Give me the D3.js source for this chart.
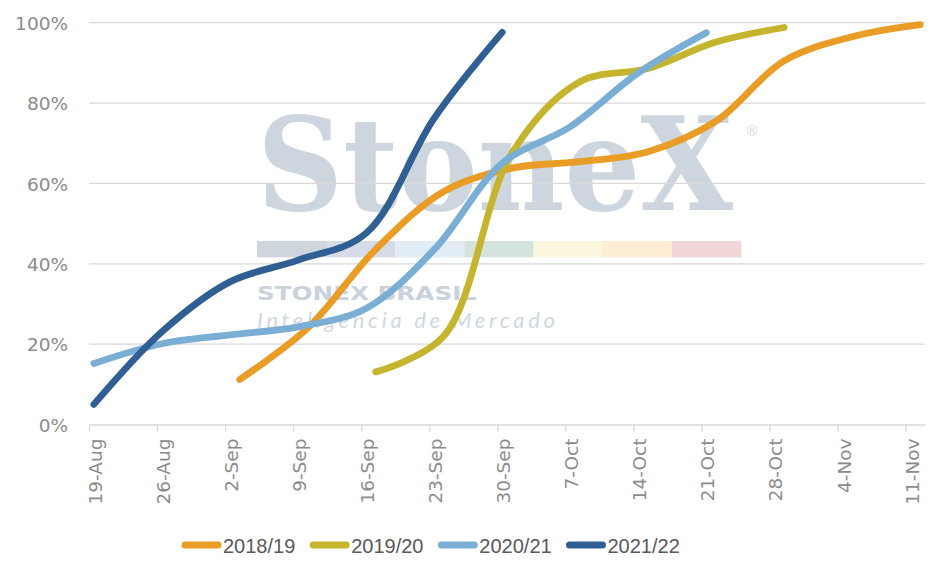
<!DOCTYPE html>
<html>
<head>
<meta charset="utf-8">
<script src="https://cdn.jsdelivr.net/npm/d3@7"></script>
<style>
  html, body { margin: 0; padding: 0; background: #fff; }
  svg { display: block; }
</style>
</head>
<body>
<svg id="chart" width="949" height="577"></svg>
<script>
// ---- data ----
const seasons = ["2018/19", "2019/20", "2020/21", "2021/22"];
const seasonColors = ["#e99c26", "#c5b42e", "#7aaed5", "#2f5f93"];

const dates1819 = ["3-Sep","10-Sep","17-Sep","24-Sep","1-Oct","8-Oct","15-Oct","22-Oct","29-Oct","5-Nov","12-Nov"];
const values1819 = [11.2, 24.0, 43.6, 58.0, 63.8, 65.4, 67.9, 75.5, 90.5, 96.5, 99.5];

const dates1920 = ["17-Sep","24-Sep","1-Oct","8-Oct","15-Oct","22-Oct","29-Oct"];
const values1920 = [13.1, 22.0, 67.5, 85.3, 88.6, 95.2, 98.8];

const dates2021 = ["19-Aug","26-Aug","2-Sep","9-Sep","16-Sep","23-Sep","30-Sep","7-Oct","14-Oct","21-Oct"];
const values2021 = [15.2, 20.1, 22.3, 24.3, 28.9, 43.5, 65.0, 74.1, 87.5, 97.5];

const dates2122 = ["19-Aug","26-Aug","2-Sep","9-Sep","16-Sep","23-Sep","30-Sep"];
const values2122 = [5.0, 23.1, 35.5, 40.9, 47.6, 76.2, 97.6];

const xTickLabels = ["19-Aug","26-Aug","2-Sep","9-Sep","16-Sep","23-Sep","30-Sep","7-Oct","14-Oct","21-Oct","28-Oct","4-Nov","11-Nov"];
const yTickValues = [0, 20, 40, 60, 80, 100];

// ---- setup ----
const parse = s => d3.timeParse("%d-%b-%Y")(s + "-2021");
const svg = d3.select("#chart");

const x = d3.scaleTime()
  .domain([parse("19-Aug"), parse("13-Nov")])
  .range([89, 925]);
const y = d3.scaleLinear().domain([0, 100]).range([424.5, 22.7]);
const halfDay = (x(parse("20-Aug")) - x(parse("19-Aug"))) / 2;

const series = [
  { name: seasons[0], color: seasonColors[0], dates: dates1819, values: values1819 },
  { name: seasons[1], color: seasonColors[1], dates: dates1920, values: values1920 },
  { name: seasons[2], color: seasonColors[2], dates: dates2021, values: values2021 },
  { name: seasons[3], color: seasonColors[3], dates: dates2122, values: values2122 }
];

const axisFont = "'DejaVu Sans', sans-serif";

// ---- watermark ----
const wm = svg.append("g").attr("class", "watermark");
wm.append("text")
  .attr("transform", "translate(257,210) scale(1,1.12)")
  .attr("x", 0).attr("y", 0)
  .attr("font-family", "'DejaVu Serif', 'Liberation Serif', serif")
  .attr("font-weight", 700)
  .attr("font-size", 116)
  .attr("textLength", 476)
  .attr("lengthAdjust", "spacingAndGlyphs")
  .attr("fill", "#cdd6de")
  .text("StoneX");
wm.append("text")
  .attr("x", 745).attr("y", 136)
  .attr("font-family", "'DejaVu Sans', sans-serif")
  .attr("font-size", 14)
  .attr("fill", "#d3dae2")
  .text("®");
const barColors = ["#cdd5dd", "#d5dce8", "#e2ecf5", "#d4e3dc", "#fbf6de", "#fdeed3", "#f1d5d7"];
const barScale = d3.scaleBand().domain(d3.range(barColors.length)).range([257, 741]).paddingInner(0);
wm.selectAll("rect.wmbar").data(barColors).join("rect")
  .attr("class", "wmbar")
  .attr("x", (d, i) => barScale(i))
  .attr("width", barScale.bandwidth() + 0.3)
  .attr("y", 241).attr("height", 16.3)
  .attr("fill", d => d);
wm.append("text")
  .attr("x", 257).attr("y", 300)
  .attr("font-family", "'DejaVu Sans', sans-serif")
  .attr("font-weight", 700)
  .attr("font-size", 20)
  .attr("textLength", 220)
  .attr("lengthAdjust", "spacingAndGlyphs")
  .attr("fill", "#cad3db")
  .text("STONEX BRASIL");
wm.append("text")
  .attr("x", 257).attr("y", 327.5)
  .attr("font-family", "'Lato', 'Open Sans', sans-serif")
  .attr("font-style", "italic")
  .attr("font-weight", 400)
  .attr("font-size", 22)
  .attr("textLength", 298)
  .attr("lengthAdjust", "spacing")
  .attr("fill", "#d0d8e0")
  .text("Inteligência de Mercado");

// ---- gridlines & y labels ----
const grid = svg.append("g");
grid.selectAll("line.grid").data(yTickValues.filter(v => v > 0)).join("line")
  .attr("class", "grid")
  .attr("x1", 89).attr("x2", 925)
  .attr("y1", d => y(d)).attr("y2", d => y(d))
  .attr("stroke", "#d9d9d9").attr("stroke-width", 1.3);

const yAxis = d3.axisLeft(y).tickValues(yTickValues).tickFormat(d => d + "%").tickSize(0).tickPadding(0);
const yg = svg.append("g").attr("transform", "translate(68,0)").call(yAxis);
yg.select(".domain").remove();
yg.selectAll("text")
  .attr("font-family", axisFont)
  .attr("font-size", 18.5)
  .attr("fill", "#8c8c8c")
  .attr("dy", "0.36em");

// ---- x axis ----
const xTickDates = xTickLabels.map(parse);
const xAxis = d3.axisBottom(x).tickValues(xTickDates).tickFormat((d, i) => xTickLabels[i]).tickSize(7).tickSizeOuter(0);
const xg = svg.append("g").attr("transform", "translate(0,424.5)").call(xAxis);
xg.select(".domain").attr("stroke", "#d9d9d9").attr("stroke-width", 1.6);
xg.selectAll(".tick line").attr("stroke", "#d9d9d9").attr("stroke-width", 1.4);
xg.selectAll(".tick text")
  .attr("font-family", axisFont)
  .attr("font-size", 18.5)
  .attr("fill", "#8c8c8c")
  .attr("text-anchor", "end")
  .attr("dy", null)
  .attr("y", 0)
  .attr("transform", "translate(12.5,14) rotate(-90)");

// ---- lines ----
const line = d3.line()
  .x(d => x(d.date) + halfDay)
  .y(d => y(d.value))
  .curve(d3.curveCatmullRom.alpha(0.5));

svg.append("g").selectAll("path.series").data(series).join("path")
  .attr("class", "series")
  .attr("d", s => line(s.dates.map((dt, i) => ({ date: parse(dt), value: s.values[i] }))))
  .attr("fill", "none")
  .attr("stroke", s => s.color)
  .attr("stroke-width", 6.8)
  .attr("stroke-linecap", "round")
  .attr("stroke-linejoin", "round");

// ---- legend ----
const legendX = d3.scalePoint().domain(seasons).range([185, 569.5]);
const lg = svg.append("g").selectAll("g").data(series).join("g")
  .attr("transform", s => `translate(${legendX(s.name)},545)`);
lg.append("line")
  .attr("x1", 0).attr("x2", 33).attr("y1", 0).attr("y2", 0)
  .attr("stroke", s => s.color)
  .attr("stroke-width", 7)
  .attr("stroke-linecap", "round");
lg.append("text")
  .attr("x", 38).attr("y", 7.5)
  .attr("font-family", "'Liberation Sans', Arial, sans-serif")
  .attr("font-size", 20)
  .attr("fill", "#595959")
  .text(s => s.name);
</script>
</body>
</html>
